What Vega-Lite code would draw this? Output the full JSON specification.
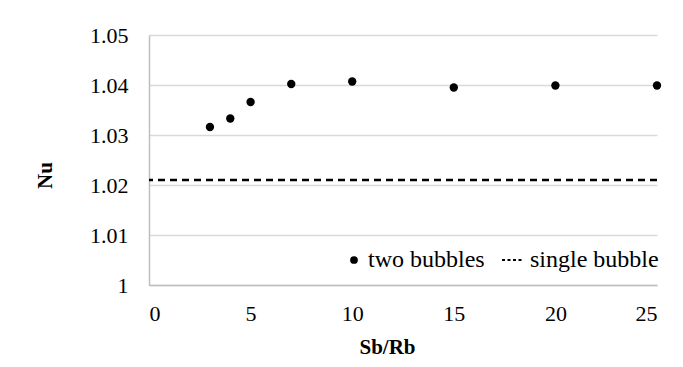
{
  "$schema": "https://vega.github.io/schema/vega-lite/v6.json",
  "autosize": {"type": "none"},
  "width": 508,
  "height": 250,
  "padding": {"left": 149, "top": 35, "right": 26, "bottom": 82},
  "background": "white",
  "config": {
    "font": "Liberation Serif",
    "view": {"stroke": null},
    "axis": {
      "labelFont": "Liberation Serif",
      "labelFontSize": 22,
      "labelColor": "#000000",
      "titleFont": "Liberation Serif",
      "titleFontSize": 21,
      "titleFontWeight": "bold",
      "titleColor": "#000000",
      "ticks": false,
      "domainColor": "#bfbfbf",
      "domainWidth": 1.5,
      "gridColor": "#d9d9d9",
      "gridWidth": 1.5
    },
    "legend": {
      "labelFont": "Liberation Serif",
      "labelFontSize": 24,
      "labelColor": "#000000",
      "padding": 0,
      "symbolOffset": 0
    }
  },
  "datasets": {
    "two": [
      {"series": "two bubbles", "ratio": 3, "nu": 1.0316},
      {"series": "two bubbles", "ratio": 4, "nu": 1.0333},
      {"series": "two bubbles", "ratio": 5, "nu": 1.0366},
      {"series": "two bubbles", "ratio": 7, "nu": 1.0402},
      {"series": "two bubbles", "ratio": 10, "nu": 1.0407},
      {"series": "two bubbles", "ratio": 15, "nu": 1.0395},
      {"series": "two bubbles", "ratio": 20, "nu": 1.0399},
      {"series": "two bubbles", "ratio": 25, "nu": 1.0399}
    ],
    "single": [
      {"series": "single bubble", "nu": 1.021}
    ]
  },
  "encoding": {
    "y": {
      "field": "nu",
      "type": "quantitative",
      "scale": {"domain": [1, 1.05], "nice": false, "zero": false},
      "axis": {
        "title": "Nu",
        "values": [1, 1.01, 1.02, 1.03, 1.04, 1.05],
        "format": ".2~f",
        "grid": true,
        "labelPadding": 21,
        "titleAngle": 270,
        "titleX": -104,
        "titleY": 140,
        "titleBaseline": "middle",
        "titleAlign": "center"
      }
    }
  },
  "layer": [
    {
      "data": {"name": "single"},
      "mark": {"type": "rule", "strokeWidth": 2.5, "strokeDash": [7, 5]},
      "encoding": {
        "color": {
          "field": "series",
          "type": "nominal",
          "scale": {"domain": ["single bubble"], "range": ["#000000"]},
          "legend": {
            "title": null,
            "orient": "none",
            "legendX": 352,
            "legendY": 213,
            "symbolType": "stroke",
            "symbolSize": 484,
            "symbolStrokeWidth": 2,
            "symbolDash": [3, 2.5],
            "labelOffset": 5
          }
        }
      }
    },
    {
      "data": {"name": "two"},
      "mark": {"type": "point", "filled": true, "color": "#000000", "size": 70, "opacity": 1},
      "encoding": {
        "x": {
          "field": "ratio",
          "type": "quantitative",
          "scale": {"domain": [0, 25], "nice": false},
          "axis": {
            "title": "Sb/Rb",
            "values": [0, 5, 10, 15, 20, 25],
            "grid": false,
            "labelPadding": 18,
            "titleX": 238,
            "titleY": 68,
            "titleBaseline": "alphabetic",
            "titleAlign": "center"
          }
        },
        "shape": {
          "field": "series",
          "type": "nominal",
          "scale": {"domain": ["two bubbles"], "range": ["circle"]},
          "legend": {
            "title": null,
            "orient": "none",
            "legendX": 193,
            "legendY": 213,
            "symbolSize": 60,
            "symbolFillColor": "#000000",
            "symbolStrokeWidth": 0,
            "labelOffset": 2
          }
        }
      }
    }
  ]
}
